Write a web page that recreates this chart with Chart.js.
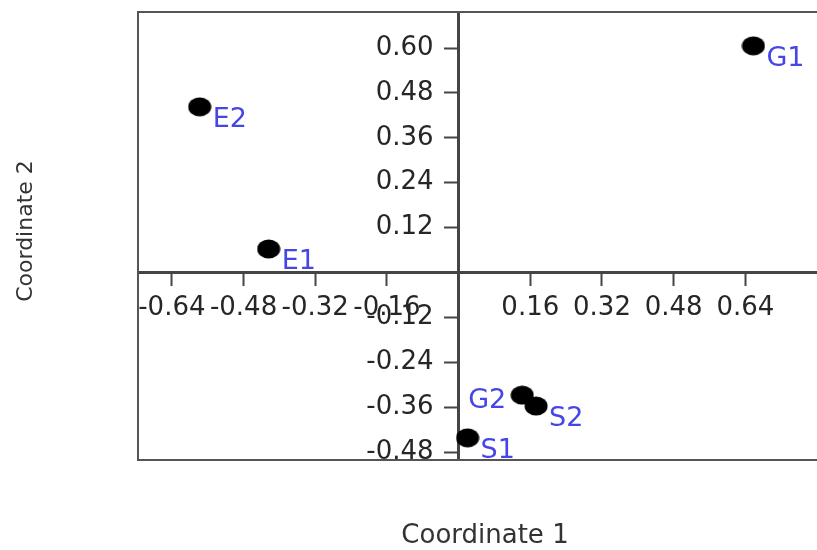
<!DOCTYPE html>
<html><head><meta charset="utf-8">
<script src="https://cdn.jsdelivr.net/npm/chart.js@4.4.1/dist/chart.umd.min.js"></script>
<style>
html,body{margin:0;padding:0;background:#fff;overflow:hidden;}
#wrap{position:relative;width:840px;height:550px;}
</style></head>
<body><div id="wrap"><canvas id="c" width="840" height="550"></canvas></div>
<script>
// ---- data ----
const sampleNames = ['G1','E2','E1','G2','S2','S1'];
const coord1 = [0.658,-0.578,-0.424,0.142,0.173,0.020];
const coord2 = [0.606,0.443,0.063,-0.328,-0.357,-0.442];
const xTicks = [-0.64,-0.48,-0.32,-0.16,0.16,0.32,0.48,0.64];
const yTicks = [0.60,0.48,0.36,0.24,0.12,-0.12,-0.24,-0.36,-0.48];
const xTitle = 'Coordinate 1';
const yTitle = 'Coordinate 2';
const labelsOnLeft = ['G2'];

// ---- styles ----
const FONT = 'DejaVu Sans';
const axisColor = '#454545';
const tickLabelColor = '#262626';
const labelColor = '#4646e6';

// ellipse marker
const dot = document.createElement('canvas');
dot.width = 24; dot.height = 20;
(function(){const g=dot.getContext('2d');g.fillStyle='#000';g.beginPath();g.ellipse(12,10,11.5,9.5,0,0,Math.PI*2);g.fill();})();

const points = coord1.map((x,i)=>({x:x,y:coord2[i]}));
const noPad = s => { s.paddingTop = 0; s.paddingBottom = 0; s.paddingLeft = 0; s.paddingRight = 0; };

const boxPlugin = {
  id:'boxPlugin',
  beforeDatasetsDraw(chart){
    const {ctx, chartArea:a} = chart;
    ctx.save();
    ctx.strokeStyle = '#555';
    ctx.lineWidth = 2;
    ctx.strokeRect(a.left, a.top, a.right-a.left, a.bottom-a.top);
    ctx.restore();
  },
  afterDatasetsDraw(chart){
    const ctx = chart.ctx;
    const meta = chart.getDatasetMeta(0);
    ctx.save();
    ctx.font = '27px "' + FONT + '"';
    ctx.fillStyle = labelColor;
    ctx.textBaseline = 'alphabetic';
    meta.data.forEach((pt,i)=>{
      const name = sampleNames[i];
      if (labelsOnLeft.includes(name)) {
        ctx.textAlign = 'right';
        ctx.fillText(name, pt.x-16, pt.y+13);
      } else {
        ctx.textAlign = 'left';
        ctx.fillText(name, pt.x+13, pt.y+20);
      }
    });
    ctx.restore();
  },
  afterDraw(chart){
    const ctx = chart.ctx;
    const ys = chart.scales.y, xs = chart.scales.x;
    const axisX = xs.getPixelForValue(0);
    ctx.save();
    // y tick labels
    ctx.fillStyle = tickLabelColor;
    ctx.font = '26px "' + FONT + '"';
    ctx.textAlign = 'right';
    ctx.textBaseline = 'middle';
    ys.ticks.forEach(t=>{
      ctx.fillText(Number(t.value).toFixed(2), axisX - 25, ys.getPixelForValue(t.value));
    });
    // titles
    ctx.fillStyle = '#333';
    ctx.textBaseline = 'alphabetic';
    ctx.textAlign = 'center';
    ctx.font = '26px "' + FONT + '"';
    ctx.fillText(xTitle, 485, 543);
    ctx.translate(32, 231);
    ctx.rotate(-Math.PI/2);
    ctx.font = '22px "' + FONT + '"';
    ctx.fillText(yTitle, 0, 0);
    ctx.restore();
  }
};

new Chart(document.getElementById('c'), {
  type:'scatter',
  data:{datasets:[{data:points, pointStyle:dot, pointRadius:10, pointHoverRadius:10}]},
  options:{
    responsive:false, animation:false, devicePixelRatio:1,
    layout:{padding:{left:138,top:12,right:8,bottom:90}},
    plugins:{legend:{display:false}, tooltip:{enabled:false}},
    scales:{
      x:{
        type:'linear', min:-0.7156, max:0.8267, position:{y:0},
        afterBuildTicks:s=>{s.ticks = xTicks.map(v=>({value:v}));},
        afterFit: noPad,
        ticks:{autoSkip:false, maxRotation:0, padding:8, color:tickLabelColor,
          font:{family:FONT,size:26}, callback:v=>Number(v).toFixed(2)},
        grid:{drawOnChartArea:false, tickLength:12, tickColor:axisColor, tickWidth:2},
        border:{color:axisColor, width:3}
      },
      y:{
        type:'linear', min:-0.5013, max:0.6965, position:{x:0},
        afterBuildTicks:s=>{s.ticks = yTicks.map(v=>({value:v}));},
        afterFit: noPad,
        ticks:{display:false, autoSkip:false},
        grid:{drawOnChartArea:false, tickLength:13, tickColor:axisColor, tickWidth:2},
        border:{color:axisColor, width:3}
      }
    }
  },
  plugins:[boxPlugin]
});
</script>
</body></html>
